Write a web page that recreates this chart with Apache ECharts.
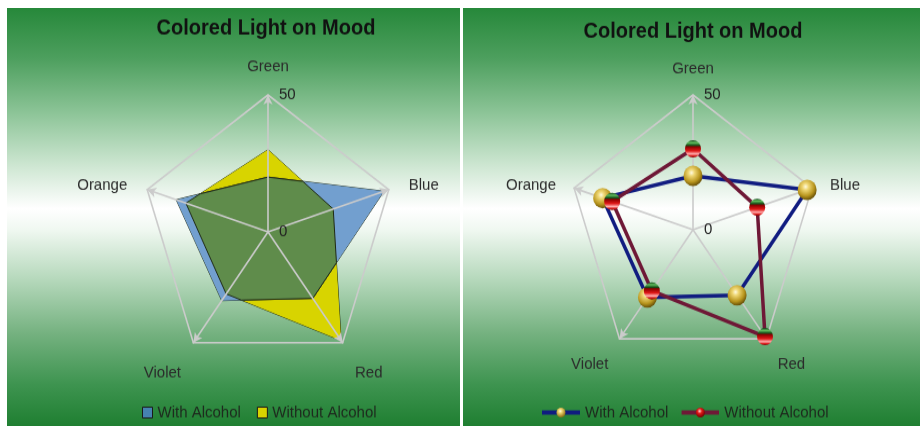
<!DOCTYPE html>
<html>
<head>
<meta charset="utf-8">
<script src="https://cdn.jsdelivr.net/npm/echarts@6/dist/echarts.min.js"></script>
<style>
  html, body { margin: 0; padding: 0; background: #ffffff; }
  #wrap { position: relative; width: 920px; height: 426px; overflow: hidden; }
  .panel {
    position: absolute; top: 8px; height: 418px;
    background: linear-gradient(to bottom,
      #26883a 0%, #4d9f5e 12%, #8cc497 25%, #cfe7d3 38%, #ffffff 48%,
      #f0f8f1 53%, #b5d8bb 65%, #74b17f 78%, #3e9450 90%, #1f7f31 100%);
  }
  #panelLeft { left: 7px; width: 453px; }
  #panelRight { left: 463px; width: 457px; }
  #chart {
    position: absolute; left: 0; top: 0; width: 920px; height: 395px;
    transform: scaleY(1.0785); transform-origin: 0 0;
  }
</style>
</head>
<body>
<div id="wrap">
  <div class="panel" id="panelLeft"></div>
  <div class="panel" id="panelRight"></div>
  <div id="chart"></div>
</div>
<script>
// Mood scores per light colour, listed in the radar's indicator order
const chartTitle = 'Colored Light on Mood';
const indicatorNames = ['Green', 'Orange', 'Violet', 'Red', 'Blue'];
const axisMin = 0;
const axisMax = 50;
const seriesNames = ['With Alcohol', 'Without Alcohol'];
const withAlcohol = [20, 38, 31, 30, 48];
const withoutAlcohol = [30, 34, 28, 49, 27];

const FONT = 'Liberation Sans';
const GRID = '#cbcbcb';

// Axis-name text styles: the side and bottom names sit a little lower
const nameBase = { color: '#2b2b2b', fontSize: 15, fontFamily: FONT };
function nameRich(lowPad) {
  return {
    top: Object.assign({}, nameBase),
    side: Object.assign({ padding: [6, 0, 0, 0] }, nameBase),
    low: Object.assign({ padding: [lowPad, 0, 0, 0] }, nameBase)
  };
}
function nameClass(i) {
  if (i === 0) return 'top';
  if (i === 1 || i === 4) return 'side';
  return 'low';
}

function makeRadar(center, radius, nameGap, lowPad) {
  return {
    z: 2,
    center: center,
    radius: radius,
    startAngle: 90,
    shape: 'polygon',
    splitNumber: 1,
    nameGap: nameGap,
    indicator: indicatorNames.map(function (n, i) {
      const ind = { name: n, min: axisMin, max: axisMax };
      if (i === 0) {
        ind.nameGap = nameGap - 2;
        ind.axisLabel = { show: true };
      }
      return ind;
    }),
    axisName: Object.assign({
      formatter: function (name) {
        return '{' + nameClass(indicatorNames.indexOf(name)) + '|' + name + '}';
      },
      rich: nameRich(lowPad)
    }, nameBase),
    axisLine: {
      lineStyle: { color: GRID, width: 1.6 },
      symbol: ['none', 'arrow'], symbolSize: [7, 9]
    },
    splitLine: { lineStyle: { color: GRID, width: 1.6 } },
    splitArea: { show: false },
    axisTick: { show: false },
    axisLabel: {
      show: false, color: '#222', fontSize: 15, fontFamily: FONT,
      margin: -11, align: 'left'
    }
  };
}

const goldBall = {
  type: 'radial', x: 0.42, y: 0.35, r: 0.65,
  colorStops: [
    { offset: 0, color: '#fffbe2' }, { offset: 0.25, color: '#efd774' },
    { offset: 0.7, color: '#b8951e' }, { offset: 1, color: '#6a5208' }
  ]
};
const redBall = {
  type: 'linear', x: 0, y: 0, x2: 0, y2: 1,
  colorStops: [
    { offset: 0, color: '#0b3b12' }, { offset: 0.14, color: '#63c060' },
    { offset: 0.3, color: '#124d18' }, { offset: 0.38, color: '#8a0000' },
    { offset: 0.62, color: '#e01818' }, { offset: 0.8, color: '#ffb3b3' },
    { offset: 0.9, color: '#e02020' }, { offset: 1, color: '#700000' }
  ]
};

function legendLineIcon(lineColor, ballFill) {
  const svg = '<svg xmlns="http://www.w3.org/2000/svg" width="38" height="12" viewBox="0 0 38 12">' +
    '<defs><radialGradient id="g" cx="0.42" cy="0.35" r="0.65">' + ballFill + '</radialGradient></defs>' +
    '<rect x="0" y="4" width="38" height="4" fill="' + lineColor + '"/>' +
    '<circle cx="19" cy="6" r="4.5" fill="url(#g)"/></svg>';
  return 'image://data:image/svg+xml;charset=utf-8,' + encodeURIComponent(svg);
}
const goldStops = '<stop offset="0" stop-color="#fffbe2"/><stop offset="0.3" stop-color="#efd774"/><stop offset="1" stop-color="#8a6a10"/>';
const redStops = '<stop offset="0" stop-color="#ffd0d0"/><stop offset="0.4" stop-color="#e01818"/><stop offset="1" stop-color="#700000"/>';

const titleStyle = { color: '#111', fontSize: 20, fontWeight: 'bold', fontFamily: FONT };
const legendText = { color: '#1e2a1e', fontSize: 15, fontFamily: FONT };

const chart = echarts.init(document.getElementById('chart'));
chart.setOption({
  animation: false,
  title: [
    { text: chartTitle, left: 266, top: 16, textAlign: 'center', padding: 0, textStyle: titleStyle },
    { text: chartTitle, left: 693, top: 19, textAlign: 'center', padding: 0, textStyle: titleStyle }
  ],
  legend: [
    {
      left: 142, top: 375, itemWidth: 10, itemHeight: 10, itemGap: 16, padding: 0,
      textStyle: legendText,
      data: [
        { name: seriesNames[0], icon: 'rect', itemStyle: { color: '#4682b0', borderColor: '#1a1a1a', borderWidth: 1 } },
        { name: seriesNames[1], icon: 'rect', itemStyle: { color: '#d8d400', borderColor: '#1a1a1a', borderWidth: 1 } }
      ]
    },
    {
      left: 542, top: 375, itemWidth: 38, itemHeight: 12, itemGap: 13, padding: 0,
      textStyle: legendText,
      data: [
        { name: seriesNames[0], icon: legendLineIcon('#101c80', goldStops) },
        { name: seriesNames[1], icon: legendLineIcon('#6e1836', redStops) }
      ]
    }
  ],
  radar: [
    makeRadar([268, 215], 127, 21, 22),
    makeRadar([693, 213], 125, 19, 16)
  ],
  series: [
    {
      type: 'radar', radarIndex: 0, z: 1, symbol: 'none',
      data: [
        {
          name: seriesNames[1], value: withoutAlcohol,
          lineStyle: { color: '#1f2a14', width: 1 },
          areaStyle: { color: '#d8d400', opacity: 1 }
        },
        {
          name: seriesNames[0], value: withAlcohol,
          lineStyle: { color: '#1f2a14', width: 1 },
          areaStyle: { color: '#729fcf', opacity: 1 }
        }
      ]
    },
    {
      type: 'radar', radarIndex: 1, z: 3,
      data: [
        {
          name: seriesNames[0], value: withAlcohol,
          symbol: 'circle', symbolSize: 19,
          lineStyle: { color: '#101c80', width: 3.5 },
          itemStyle: { color: goldBall }
        },
        {
          name: seriesNames[1], value: withoutAlcohol,
          symbol: 'circle', symbolSize: 16,
          lineStyle: { color: '#6e1836', width: 3.5 },
          itemStyle: { color: redBall }
        }
      ]
    }
  ]
});

// Shade the region where both filled polygons overlap, using the radar's own scale
(function drawOverlap() {
  const cs = chart.getModel().getComponent('radar', 0).coordinateSystem;
  const n = indicatorNames.length;
  const pa = withAlcohol.map(function (v, i) { return cs.dataToPoint(v, i); });
  const pb = withoutAlcohol.map(function (v, i) { return cs.dataToPoint(v, i); });
  function cross(p1, p2, p3, p4) {
    const d = (p1[0] - p2[0]) * (p3[1] - p4[1]) - (p1[1] - p2[1]) * (p3[0] - p4[0]);
    const t = ((p1[0] - p3[0]) * (p3[1] - p4[1]) - (p1[1] - p3[1]) * (p3[0] - p4[0])) / d;
    return [p1[0] + t * (p2[0] - p1[0]), p1[1] + t * (p2[1] - p1[1])];
  }
  const pts = [];
  for (let i = 0; i < n; i++) {
    const j = (i + 1) % n;
    pts.push(withAlcohol[i] <= withoutAlcohol[i] ? pa[i] : pb[i]);
    const di = withAlcohol[i] - withoutAlcohol[i];
    const dj = withAlcohol[j] - withoutAlcohol[j];
    if (di * dj < 0) pts.push(cross(pa[i], pa[j], pb[i], pb[j]));
  }
  chart.setOption({
    graphic: [{
      type: 'polygon', z: 1.5, silent: true,
      shape: { points: pts },
      style: { fill: '#5f8c4b', stroke: '#1f2a14', lineWidth: 1 }
    }]
  });
})();
</script>
</body>
</html>
